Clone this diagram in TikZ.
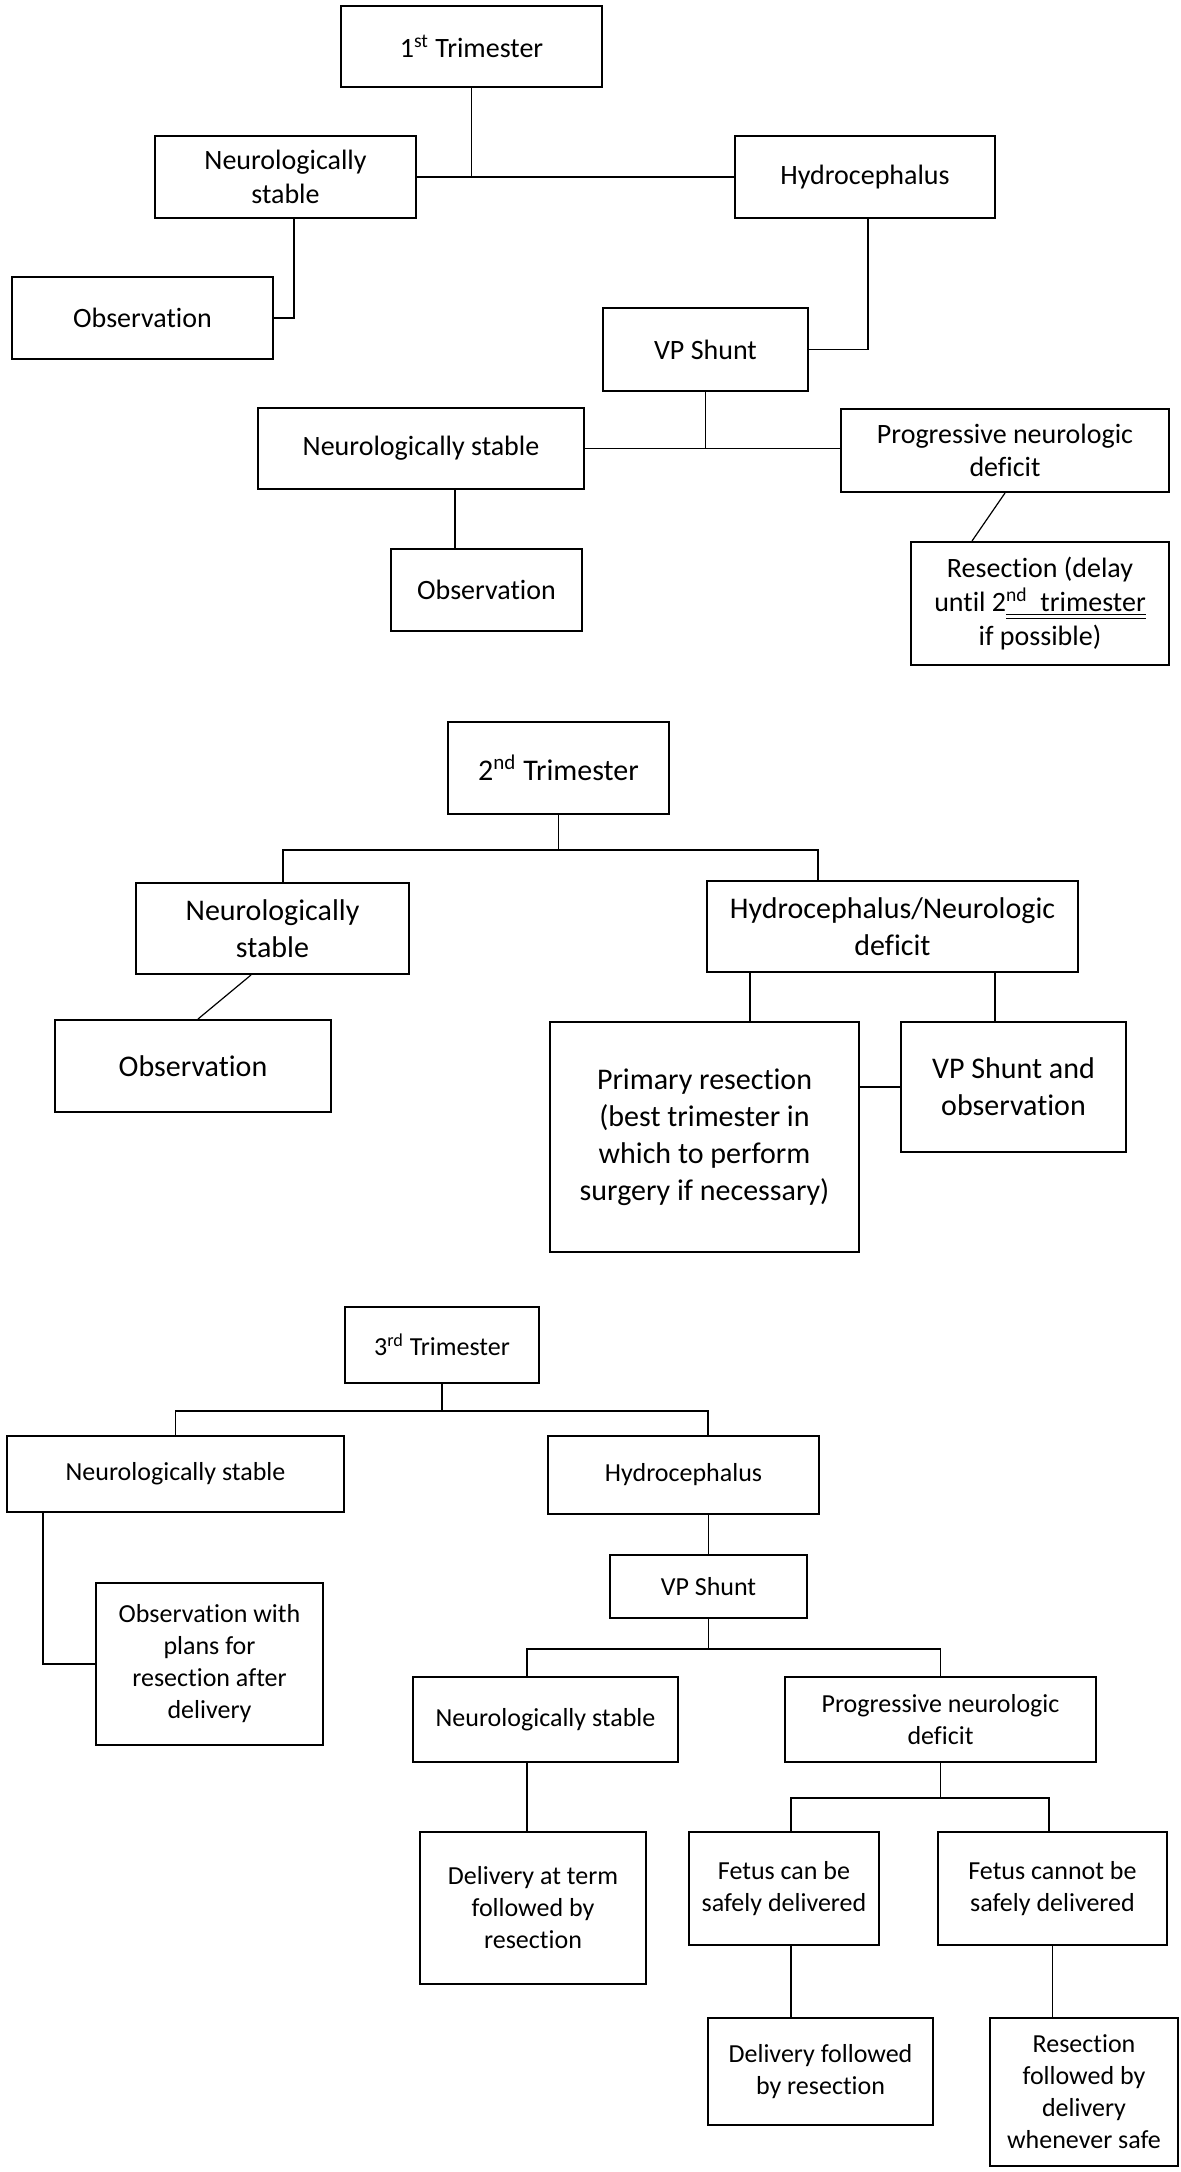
\documentclass[tikz,border=0pt]{standalone}
\usepackage{fontspec}
\setmainfont[Ligatures={NoCommon,NoContextual,NoRare,NoRequired}]{Carlito}
\newcommand\bx[7][]{\node[box,#1,minimum width=#5*0.5pt,minimum height=#6*0.5pt] (#2) at (#3,#4) {#7};}
\newcommand\dul[1]{\underline{\underline{#1}}}
\tikzset{
  box/.style={draw, line width=1pt, inner sep=0pt, align=center},
  con/.style={line width=0.6pt},
  sA/.style={font=\fontsize{14}{16.8}\selectfont},
  sB/.style={font=\fontsize{15}{18.5}\selectfont},
  sC/.style={font=\fontsize{13}{16}\selectfont}
}
\begin{document}
\begin{tikzpicture}[x=0.5pt,y=-0.5pt]
\useasboundingbox[fill=white] (0,0) rectangle (1181,2172);
% ---------- 1st trimester ----------
\bx[sA]{t1}{471.5}{46.5}{261}{81}{1\textsuperscript{st} Trimester}
\bx[sA]{ns1}{285.5}{177}{261}{82}{Neurologically\\stable}
\bx[sA]{hy1}{865}{177}{260}{82}{Hydrocephalus}
\bx[sA]{ob1}{142.5}{318}{261}{82}{Observation}
\bx[sA]{vp1}{705.5}{349.5}{205}{83}{VP Shunt}
\bx[sA]{ns2}{421}{448.5}{326}{81}{Neurologically stable}
\bx[sA]{pnd1}{1005}{450.5}{328}{83}{Progressive neurologic\\deficit}
\bx[sA]{ob2}{486.5}{590}{191}{82}{Observation}
\bx[sA]{res1}{1040}{603.5}{258}{123}{Resection (delay\\until 2\dul{\textsuperscript{nd}\ \ trimester}\\if possible)}
\draw[con] (t1.south) -- (t1.south |- ns1.east);
\draw[con] (ns1.east) -- (hy1.west);
\draw[con] ([xshift=4.25pt]ns1.south) |- (ob1.east);
\draw[con] ([xshift=1.5pt]hy1.south) |- (vp1.east);
\draw[con] (vp1.south) -- (vp1.south |- ns2.east);
\draw[con] (ns2.east) -- (ns2.east -| pnd1.west);
\coordinate (n2d) at ([xshift=17pt]ns2.south);
\draw[con] (n2d) -- (n2d |- ob2.north);
\draw[con] (pnd1.south) -- ([xshift=-34pt]res1.north);
% ---------- 2nd trimester ----------
\bx[sB]{t2}{558.5}{768}{221}{92}{2\textsuperscript{nd} Trimester}
\bx[sB]{ns3}{272.5}{928.5}{273}{91}{Neurologically\\stable}
\bx[sB]{hy2}{892.5}{926.5}{371}{91}{Hydrocephalus/Neurologic\\deficit}
\bx[sB]{ob3}{193}{1066}{276}{92}{Observation}
\bx[sB]{pr}{704.5}{1137}{309}{230}{Primary resection\\(best trimester in\\which to perform\\surgery if necessary)}
\bx[sB]{vp2}{1013.5}{1087}{225}{130}{VP Shunt and\\observation}
\coordinate (j2) at (558.5,850);
\coordinate (n3d) at ([xshift=5.25pt]ns3.north);
\coordinate (h2d) at ([xshift=-37.25pt]hy2.north);
\draw[con] (t2.south) -- (j2);
\draw[con] (n3d) |- (j2) -| (h2d);
\draw[con] ([xshift=-10.75pt]ns3.south) -- ([xshift=2.5pt]ob3.north);
\coordinate (h2a) at ([xshift=-71.25pt]hy2.south);
\coordinate (h2b) at ([xshift=51.25pt]hy2.south);
\draw[con] (h2a) -- (h2a |- pr.north);
\draw[con] (h2b) -- (h2b |- vp2.north);
\draw[con] (vp2.west -| pr.east) -- (vp2.west);
% ---------- 3rd trimester ----------
\bx[sC]{t3}{442}{1345}{194}{76}{3\textsuperscript{rd} Trimester}
\bx[sC]{ns4}{175.5}{1474}{337}{76}{Neurologically stable}
\bx[sC]{hy3}{683.5}{1475}{271}{78}{Hydrocephalus}
\bx[sC]{vp3}{708.5}{1586.5}{197}{63}{VP Shunt}
\bx[sC]{ob4}{209.5}{1664}{227}{162}{Observation with\\plans for\\resection after\\delivery}
\bx[sC]{ns5}{545.5}{1719.5}{265}{85}{Neurologically stable}
\bx[sC]{pnd2}{940.5}{1719.5}{311}{85}{Progressive neurologic\\deficit}
\bx[sC]{dt}{533}{1908}{226}{152}{Delivery at term\\followed by\\resection}
\bx[sC]{fc}{784}{1888.5}{190}{113}{Fetus can be\\safely delivered}
\bx[sC]{fn}{1052.5}{1888.5}{229}{113}{Fetus cannot be\\safely delivered}
\bx[sC]{df}{820.5}{2071.5}{225}{107}{Delivery followed\\by resection}
\bx[sC]{rf}{1084}{2092}{188}{148}{Resection\\followed by\\delivery\\whenever safe}
\coordinate (j3) at (442,1411);
\coordinate (h3d) at ([xshift=12.25pt]hy3.north);
\draw[con] (t3.south) -- (j3);
\draw[con] (ns4.north) |- (j3) -| (h3d);
\draw[con] (vp3.north |- hy3.south) -- (vp3.north);
\draw[con] ([xshift=-66.25pt]ns4.south) |- (ob4.west);
\coordinate (j4) at (708.5,1649);
\coordinate (n5d) at ([xshift=-9.25pt]ns5.north);
\draw[con] (vp3.south) -- (j4);
\draw[con] (n5d) |- (j4) -| (pnd2.north);
\coordinate (n5s) at ([xshift=-9.25pt]ns5.south);
\draw[con] (n5s) -- (n5s |- dt.north);
\coordinate (j5) at (940.5,1798);
\coordinate (fcd) at ([xshift=3.5pt]fc.north);
\coordinate (fnd) at ([xshift=-1.75pt]fn.north);
\draw[con] (pnd2.south) -- (j5);
\draw[con] (fcd) |- (j5) -| (fnd);
\coordinate (fcs) at ([xshift=3.5pt]fc.south);
\draw[con] (fcs) -- (fcs |- df.north);
\draw[con] (fn.south) -- (fn.south |- rf.north);
\end{tikzpicture}
\end{document}
